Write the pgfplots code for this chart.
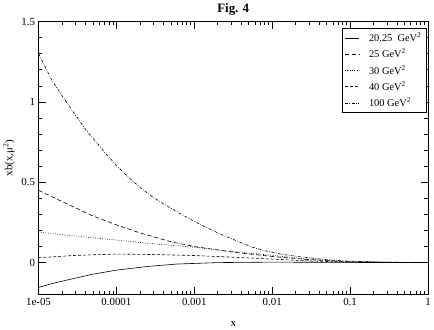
\documentclass[border=0pt]{standalone}
\usepackage{fontspec}
\setmainfont{Liberation Serif}
\usepackage{pgfplots}
\pgfplotsset{compat=1.18}

\begin{document}
\begin{tikzpicture}
\begin{axis}[
  scale only axis,
  width=392bp, height=275bp,
  xmode=log,
  xmin=1e-5, xmax=1,
  ymin=-0.2, ymax=1.5,
  xtick={1e-5,1e-4,1e-3,1e-2,1e-1,1},
  xticklabels={1e-05,0.0001,0.001,0.01,0.1,1},
  minor xtick={2e-5,3e-5,4e-5,5e-5,6e-5,7e-5,8e-5,9e-5,
               2e-4,3e-4,4e-4,5e-4,6e-4,7e-4,8e-4,9e-4,
               2e-3,3e-3,4e-3,5e-3,6e-3,7e-3,8e-3,9e-3,
               2e-2,3e-2,4e-2,5e-2,6e-2,7e-2,8e-2,9e-2,
               0.2,0.3,0.4,0.5,0.6,0.7,0.8,0.9},
  ytick={0,0.5,1,1.5},
  yticklabels={0,0.5,1,1.5},
  minor y tick num=4,
  major tick length=7.5bp,
  minor tick length=3.7bp,
  tick style={black, line width=0.6pt},
  axis line style={line width=0.8pt},
  tick label style={font=\fontsize{11}{13}\selectfont},
  /pgf/number format/assume math mode=true,
  xlabel={x},
  ylabel={xb(x,μ\textsuperscript{2})},
  label style={font=\fontsize{11}{13}\selectfont},
  xlabel style={yshift=-9bp},
  title={\textbf{Fig. 4}},
  title style={font=\fontsize{13}{15}\selectfont, yshift=-3bp},
  legend style={at={(0.995,0.975)}, anchor=north east, draw=black,
    font=\fontsize{10.5}{12}\selectfont, row sep=2pt, inner sep=2.5pt},
  legend cell align=left,
  legend image code/.code={\draw[#1] (0bp,0bp) -- (14bp,0bp); \path (22bp,0bp);},
  every axis plot/.append style={line width=0.6pt, black},
]
\addplot[solid] coordinates {
(1e-5,-0.155) (1.5e-5,-0.13) (2.5e-5,-0.105) (5e-5,-0.072) (1e-4,-0.047)
(2.5e-4,-0.024) (6e-4,-0.009) (2e-3,0.0) (1e-2,0.003) (0.1,0.001) (1,0)};
\addlegendentry{20.25\ \ GeV\textsuperscript{2}}

\addplot[dash pattern=on 4.5pt off 2.5pt] coordinates {
(1e-5,0.45) (2e-5,0.38) (3e-5,0.34) (5e-5,0.29) (1e-4,0.235) (2e-4,0.185)
(5e-4,0.13) (1e-3,0.1) (3e-3,0.066) (1e-2,0.038) (3e-2,0.018) (0.1,0.005) (1,0)};
\addlegendentry{25 GeV\textsuperscript{2}}

\addplot[dash pattern=on 0.8pt off 1.6pt] coordinates {
(1e-5,0.19) (3e-5,0.165) (1e-4,0.14) (3e-4,0.117) (1e-3,0.096) (3e-3,0.07)
(1e-2,0.045) (3e-2,0.021) (0.1,0.005) (1,0)};
\addlegendentry{30 GeV\textsuperscript{2}}

\addplot[dash pattern=on 3pt off 2pt] coordinates {
(1e-5,0.03) (3e-5,0.045) (1e-4,0.053) (3e-4,0.05) (1e-3,0.044) (3e-3,0.034)
(1e-2,0.022) (3e-2,0.01) (0.1,0.003) (1,0)};
\addlegendentry{40 GeV\textsuperscript{2}}

\addplot[dash pattern=on 3pt off 1.5pt on 0.8pt off 1.5pt] coordinates {
(1e-5,1.30) (1.5e-5,1.13) (2e-5,1.04) (2.66e-5,0.952) (4e-5,0.83) (5.5e-5,0.75)
(7.1e-5,0.685) (1e-4,0.605) (1.4e-4,0.535) (2.08e-4,0.462) (3e-4,0.405) (4e-4,0.366)
(6e-4,0.316) (8.2e-4,0.28) (1.16e-3,0.24) (1.6e-3,0.207) (2.3e-3,0.172) (3.6e-3,0.133)
(5.5e-3,0.097) (8.3e-3,0.072) (1.4e-2,0.05) (2.2e-2,0.037) (0.05,0.018) (0.095,0.009)
(0.3,0.002) (1,0)};
\addlegendentry{100 GeV\textsuperscript{2}}
\end{axis}
\end{tikzpicture}
\end{document}
